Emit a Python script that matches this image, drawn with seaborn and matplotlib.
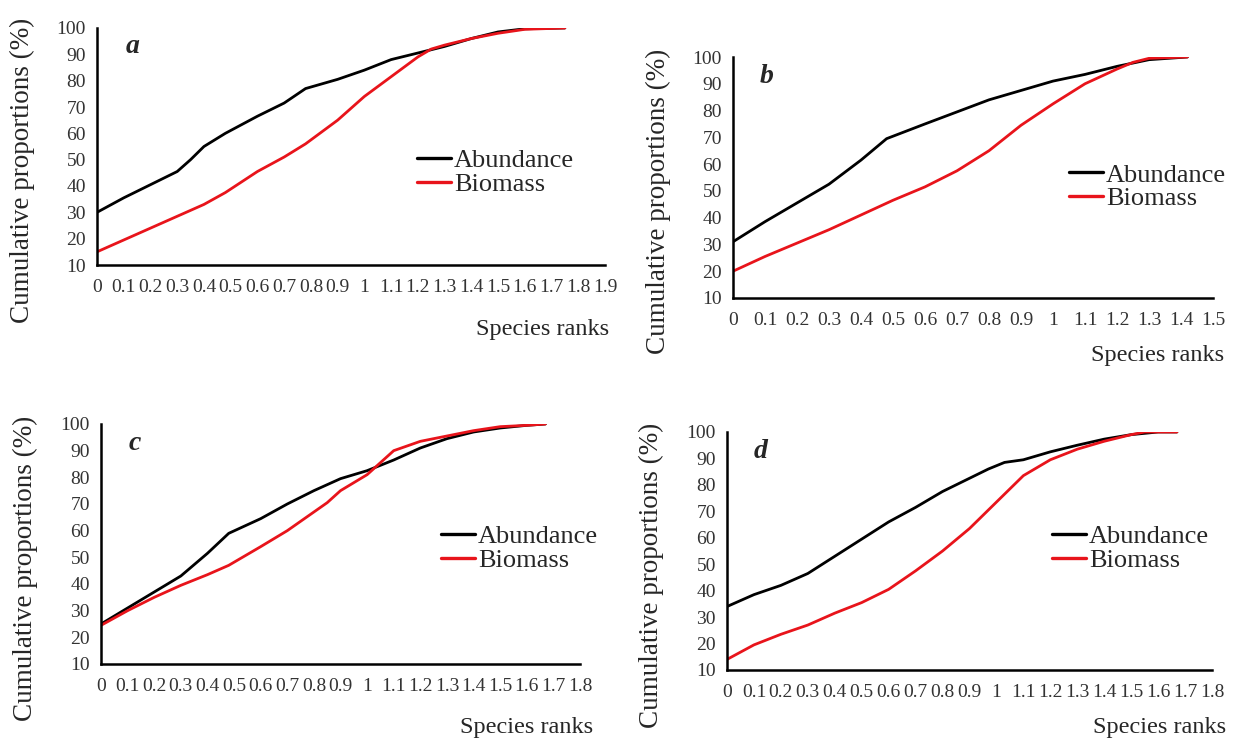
import numpy as np
import pandas as pd
import matplotlib
matplotlib.use("Agg")
import matplotlib.pyplot as plt
import seaborn as sns

sns.set_style("white")
plt.rcParams['font.family'] = ['Liberation Serif', 'DejaVu Serif']

# ---------------- data ----------------
a_abund_x = [0, 0.1, 0.2, 0.3, 0.35, 0.4, 0.48, 0.6, 0.7, 0.78, 0.9, 1.0, 1.1, 1.2, 1.3, 1.4, 1.5, 1.6, 1.75]
a_abund_y = [30, 35.5, 40.5, 45.5, 50, 55, 60, 66.5, 71.5, 77, 80.5, 84, 88, 90.5, 93, 96, 98.5, 99.7, 100]
a_bio_x = [0, 0.1, 0.2, 0.3, 0.4, 0.48, 0.6, 0.7, 0.78, 0.9, 1.0, 1.1, 1.2, 1.25, 1.3, 1.4, 1.5, 1.6, 1.75]
a_bio_y = [15, 19.5, 24, 28.5, 33, 37.5, 45.5, 51, 56, 65, 74, 81.5, 89, 92, 93.5, 96, 98, 99.5, 100]

b_abund_x = [0, 0.1, 0.2, 0.3, 0.4, 0.48, 0.6, 0.7, 0.8, 0.9, 1.0, 1.1, 1.2, 1.3, 1.42]
b_abund_y = [31, 38.5, 45.5, 52.5, 61.5, 69.5, 75, 79.5, 84, 87.5, 91, 93.5, 96.5, 99, 100]
b_bio_x = [0, 0.1, 0.2, 0.3, 0.4, 0.5, 0.6, 0.7, 0.8, 0.9, 1.0, 1.1, 1.2, 1.25, 1.3, 1.42]
b_bio_y = [20, 25.5, 30.5, 35.5, 41, 46.5, 51.5, 57.5, 65, 74.5, 82.5, 90, 95.5, 98, 99.5, 100]

c_abund_x = [0, 0.1, 0.2, 0.3, 0.4, 0.48, 0.6, 0.7, 0.8, 0.9, 1.0, 1.1, 1.2, 1.3, 1.4, 1.5, 1.6, 1.67]
c_abund_y = [25, 31, 37, 43, 51.5, 59, 64.5, 70, 75, 79.5, 82.5, 86.5, 91, 94.5, 97, 98.5, 99.5, 100]
c_bio_x = [0, 0.1, 0.2, 0.3, 0.4, 0.48, 0.6, 0.7, 0.8, 0.85, 0.9, 1.0, 1.05, 1.1, 1.2, 1.3, 1.4, 1.5, 1.6, 1.67]
c_bio_y = [24.5, 30, 35, 39.5, 43.5, 47, 54, 60, 67, 70.5, 75, 81, 85.5, 90, 93.5, 95.5, 97.5, 99, 99.5, 100]

d_abund_x = [0, 0.1, 0.2, 0.3, 0.4, 0.5, 0.6, 0.7, 0.8, 0.9, 0.97, 1.03, 1.1, 1.2, 1.3, 1.4, 1.5, 1.6, 1.67]
d_abund_y = [34, 38.5, 42, 46.5, 53, 59.5, 66, 71.5, 77.5, 82.5, 86, 88.5, 89.5, 92.5, 95, 97.3, 99, 100, 100]
d_bio_x = [0, 0.1, 0.2, 0.3, 0.4, 0.5, 0.6, 0.7, 0.8, 0.9, 1.0, 1.1, 1.2, 1.3, 1.4, 1.5, 1.55, 1.67]
d_bio_y = [14, 19.5, 23.5, 27, 31.5, 35.5, 40.5, 47.5, 55, 63.5, 73.5, 83.5, 89.5, 93.5, 96.5, 99, 100, 100]

panel_letters = ["a", "b", "c", "d"]
x_max = [1.9, 1.5, 1.8, 1.8]
y_ticks = list(range(10, 101, 10))
series_names = ["Abundance", "Biomass"]

panels = [
    (a_abund_x, a_abund_y, a_bio_x, a_bio_y),
    (b_abund_x, b_abund_y, b_bio_x, b_bio_y),
    (c_abund_x, c_abund_y, c_bio_x, c_bio_y),
    (d_abund_x, d_abund_y, d_bio_x, d_bio_y),
]

# ---------------- layout (pixels) ----------------
W, H = 1236, 742
boxes = [(97, 605, 28, 265), (733, 1213, 57, 298), (101, 580, 424, 664), (727, 1212, 432, 670)]
legend_pos = [(0.63, 0.49), (0.70, 0.56), (0.71, 0.58), (0.67, 0.61)]
ylabel_x = [22, 658, 25, 651]
xlabel_pos = [(543, 330), (1158, 355), (527, 728), (1160, 728)]

fig = plt.figure(figsize=(W / 100, H / 100), dpi=100)
palette = {"Abundance": "#000000", "Biomass": "#e8141b"}

for i, (ax_x, ax_y, bx, by) in enumerate(panels):
    l, r, t, b = boxes[i]
    ax = fig.add_axes([l / W, 1 - b / H, (r - l) / W, (b - t) / H])
    df = pd.concat([
        pd.DataFrame({"x": ax_x, "y": ax_y, "Series": "Abundance"}),
        pd.DataFrame({"x": bx, "y": by, "Series": "Biomass"}),
    ])
    sns.lineplot(data=df, x="x", y="y", hue="Series", palette=palette, ax=ax,
                 linewidth=2.0, sort=True, estimator=None, legend=False)
    ax.set_xlim(0, x_max[i])
    ax.set_ylim(10, 100)
    xt = np.round(np.arange(0, x_max[i] + 0.001, 0.1), 1)
    ax.set_xticks(xt)
    ax.set_xticklabels([f"{v:g}" for v in xt], fontsize=14)
    ax.set_yticks(y_ticks)
    ax.set_yticklabels([str(v) for v in y_ticks], fontsize=14)
    ax.tick_params(axis="x", direction="in", length=5, width=1.5, pad=10, colors="#000000", labelcolor="#333333")
    ax.tick_params(axis="y", direction="out", length=4, width=1.5, pad=4, colors="#000000", labelcolor="#333333")
    for s in ["top", "right"]:
        ax.spines[s].set_visible(False)
    for s in ["left", "bottom"]:
        ax.spines[s].set_color("black")
        ax.spines[s].set_linewidth(1.8)
    ax.set_xlabel("")
    ax.set_ylabel("")
    ax.set_facecolor("white")
    ax.text(0.07, 0.92, panel_letters[i], transform=ax.transAxes, fontsize=20,
            fontweight="bold", fontstyle="italic", va="center", ha="center")
    handles = [plt.Line2D([], [], color=palette[n], linewidth=2.4) for n in series_names]
    ax.legend(handles, series_names, loc="upper left", bbox_to_anchor=legend_pos[i],
              frameon=False, fontsize=19, handlelength=1.3, handletextpad=0.1,
              labelspacing=0.0, borderpad=0, borderaxespad=0)
    fig.text(ylabel_x[i] / W, 1 - ((t + b) / 2 + 24) / H, "Cumulative proportions (%)",
             rotation=90, fontsize=19.5, ha="center", va="center")
    fig.text(xlabel_pos[i][0] / W, 1 - xlabel_pos[i][1] / H, "Species ranks",
             fontsize=17.5, ha="center", va="center")

fig.savefig("out.png", dpi=100, facecolor="white")
